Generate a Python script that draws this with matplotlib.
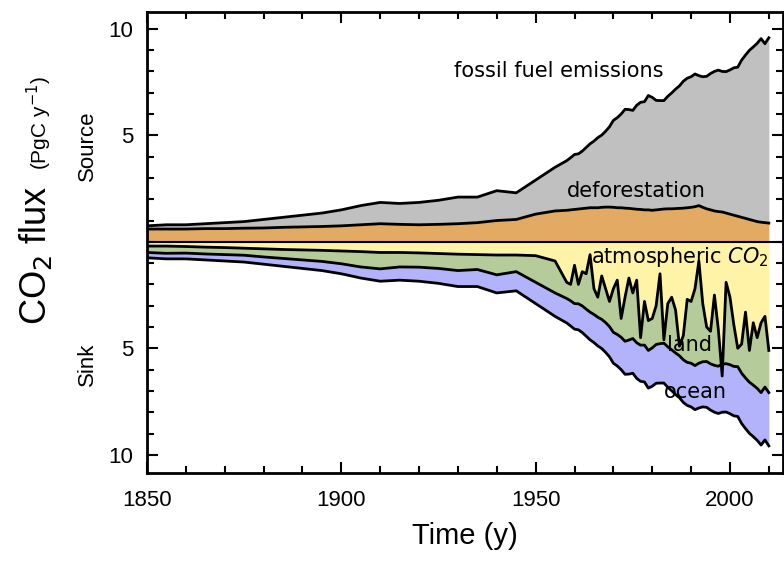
import numpy as np
import matplotlib.pyplot as plt
from matplotlib.ticker import MultipleLocator, FixedLocator

# year grid: 5-yearly to 1955, then annual
years = list(range(1850, 1960, 5)) + list(range(1958, 2011))

fossil = [0.15, 0.2, 0.2, 0.23, 0.28, 0.31, 0.4, 0.47, 0.55, 0.63, 0.75, 0.9, 1.0, 0.98,
          1.05, 1.13, 1.25, 1.2, 1.4, 1.25, 1.6, 2.05,
          2.33, 2.45, 2.58, 2.59, 2.70, 2.85, 3.00, 3.13, 3.29, 3.39, 3.56, 3.77, 4.08,
          4.23, 4.40, 4.64, 4.64, 4.62, 4.88, 5.03, 5.08, 5.37, 5.30, 5.14, 5.11, 5.09,
          5.28, 5.44, 5.61, 5.75, 5.96, 6.08, 6.13, 6.23, 6.10, 6.13, 6.22, 6.40, 6.55,
          6.64, 6.60, 6.64, 6.77, 6.92, 7.00, 7.38, 7.67, 7.94, 8.15, 8.37, 8.62, 8.40, 8.70]

deforestation = [0.6, 0.6, 0.6, 0.62, 0.62, 0.64, 0.65, 0.68, 0.7, 0.72, 0.75, 0.8, 0.85, 0.82,
                 0.8, 0.82, 0.85, 0.9, 1.0, 1.05, 1.3, 1.45,
                 1.48, 1.5, 1.52, 1.54, 1.56, 1.58, 1.6, 1.6, 1.6, 1.62, 1.63, 1.63, 1.62,
                 1.6, 1.6, 1.58, 1.57, 1.55, 1.53, 1.52, 1.5, 1.5, 1.48, 1.5, 1.52, 1.54,
                 1.55, 1.55, 1.56, 1.57, 1.58, 1.6, 1.62, 1.65, 1.7, 1.62, 1.55, 1.5, 1.45,
                 1.42, 1.4, 1.35, 1.3, 1.25, 1.2, 1.15, 1.1, 1.05, 1.0, 0.95, 0.92, 0.9, 0.88]

atmosphere = [0.2, 0.2, 0.22, 0.25, 0.27, 0.3, 0.33, 0.36, 0.38, 0.4, 0.43, 0.46, 0.5, 0.5,
              0.52, 0.55, 0.58, 0.6, 0.62, 0.62, 0.65, 0.9,
              1.9, 2.0, 1.1, 2.0, 1.4, 1.5, 0.6, 2.2, 2.6, 1.6, 2.2, 2.8, 2.2,
              1.8, 3.6, 2.6, 1.7, 2.4, 1.8, 4.5, 2.8, 3.7, 3.6, 3.0, 1.5, 4.6,
              2.9, 2.6, 3.2, 4.9, 4.4, 2.7, 2.8, 2.2, 0.9, 2.9, 4.0, 4.2, 2.5,
              4.1, 6.3, 1.9, 2.6, 3.9, 5.0, 4.8, 3.3, 5.1, 3.8, 4.5, 3.8, 3.5, 5.1]

ocean = [0.25, 0.26, 0.27, 0.28, 0.3, 0.32, 0.34, 0.37, 0.4, 0.43, 0.47, 0.52, 0.58, 0.62,
         0.66, 0.7, 0.75, 0.8, 0.85, 0.9, 1.0, 1.1,
         1.15, 1.18, 1.2, 1.22, 1.25, 1.27, 1.3, 1.32, 1.35, 1.37, 1.4, 1.42, 1.45,
         1.48, 1.52, 1.55, 1.6, 1.63, 1.67, 1.7, 1.73, 1.77, 1.8, 1.82, 1.85, 1.87,
         1.9, 1.92, 1.95, 1.97, 2.0, 2.02, 2.05, 2.07, 2.1, 2.12, 2.15, 2.17, 2.2,
         2.22, 2.25, 2.27, 2.3, 2.32, 2.34, 2.36, 2.38, 2.4, 2.42, 2.44, 2.46, 2.48, 2.5]

x = np.array(years, dtype=float)
ff = np.array(fossil)
luc = np.array(deforestation)
atm = np.array(atmosphere)
ocn = np.array(ocean)
land = ff + luc - atm - ocn  # residual land sink

src_top = luc + ff
b_atm = -atm
b_land = -(atm + land)
b_ocn = -(atm + land + ocn)

plt.rcParams['font.family'] = ['Liberation Sans', 'DejaVu Sans']
fig = plt.figure(figsize=(7.84, 5.61), dpi=100)
ax = fig.add_axes([0.1875, 0.157, 0.811, 0.822])

ax.fill_between(x, luc, src_top, color='#c0c0c0', lw=0)
ax.fill_between(x, 0, luc, color='#e2aa62', lw=0)
ax.fill_between(x, 0, b_atm, color='#fff3a8', lw=0)
ax.fill_between(x, b_atm, b_land, color='#b5cc9a', lw=0)
ax.fill_between(x, b_land, b_ocn, color='#b3b3fb', lw=0)
for line in [src_top, luc, b_atm, b_land, b_ocn]:
    ax.plot(x, line, color='black', lw=2)
ax.axhline(0, color='black', lw=1.5)

ax.set_xlim(1850, 2013.6)
ax.set_ylim(-10.85, 10.8)
ax.xaxis.set_major_locator(MultipleLocator(50))
ax.xaxis.set_minor_locator(MultipleLocator(10))
ax.yaxis.set_major_locator(FixedLocator([-10, -5, 5, 10]))
ax.set_yticklabels(['10', '5', '5', '10'])
ax.yaxis.set_minor_locator(MultipleLocator(1))
ax.tick_params(which='both', direction='in', top=True, right=True, labelsize=16, width=1.5)
ax.tick_params(axis='x', pad=12)
ax.tick_params(axis='y', pad=10)
ax.tick_params(which='major', length=8)
ax.tick_params(which='minor', length=5)
for s in ax.spines.values():
    s.set_linewidth(2)

ax.set_xlabel('Time (y)', fontsize=21, labelpad=8)
fig.text(0.045, 0.545, 'CO$_2$ flux', rotation=90, fontsize=26, ha='center', va='center')
fig.text(0.05, 0.78, '(PgC y$^{-1}$)', rotation=90, fontsize=15, ha='center', va='center')
fig.text(0.112, 0.74, 'Source', rotation=90, fontsize=16, ha='center', va='center')
fig.text(0.112, 0.35, 'Sink', rotation=90, fontsize=16, ha='center', va='center')

lab = dict(fontsize=15, family=['DejaVu Sans'], ha='center', va='center')
ax.text(1956, 8.0, 'fossil fuel emissions', **lab)
ax.text(1976, 2.4, 'deforestation', **lab)
ax.text(1987, -0.7, 'atmospheric $CO_2$', **lab)
ax.text(1989.5, -4.85, 'land', **lab)
ax.text(1991, -7.05, 'ocean', **lab)

fig.savefig('out.png', dpi=100)
